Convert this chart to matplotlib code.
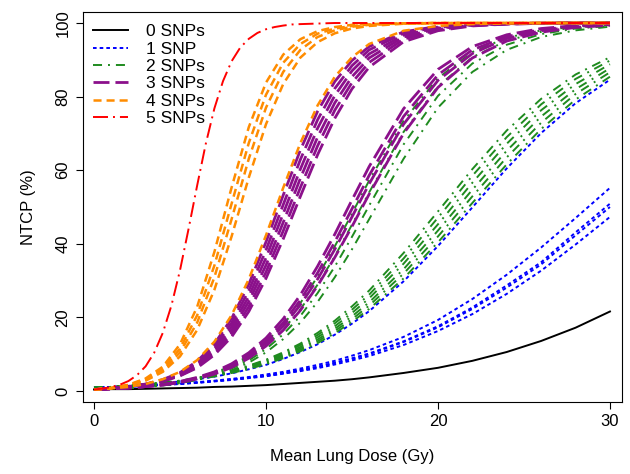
import matplotlib
matplotlib.use('Agg')
import matplotlib.pyplot as plt

plt.rcParams['font.family'] = ['Liberation Sans', 'DejaVu Sans']
plt.rcParams['lines.scale_dashes'] = False

dose = [0, 1, 2, 3, 4, 5, 6, 7, 8, 9, 10, 11, 12, 13, 14, 15, 16,
        18, 20, 22, 24, 26, 28, 30]
# the 5-SNP curve is steep, so it was read at finer steps
dose_5snp = [0, 0.5, 1, 1.5, 2, 2.5, 3, 3.5, 4, 4.5, 5, 5.5, 6, 6.5, 7, 7.5,
             8, 8.5, 9, 9.5, 10, 10.5, 11, 11.5, 12, 14, 16, 20, 25, 30]

# NTCP (%) for every SNP combination, grouped by number of risk SNPs
ntcp_0snp = [
    [0.4, 0.5, 0.5, 0.6, 0.7, 0.8, 0.9, 1.1, 1.2, 1.4, 1.6, 1.9, 2.2, 2.5, 2.8, 3.2, 3.7, 4.9, 6.3, 8.2, 10.6, 13.6, 17.2, 21.6],
]
ntcp_1snp = [
    [0.9, 1.1, 1.2, 1.5, 1.7, 2, 2.4, 2.8, 3.3, 3.8, 4.5, 5.2, 6.1, 7.1, 8.2, 9.6, 11.1, 14.7, 19.3, 25, 31.6, 39, 47, 55.2],
    [0.9, 1.1, 1.2, 1.4, 1.7, 2, 2.3, 2.7, 3.1, 3.6, 4.2, 4.9, 5.7, 6.6, 7.7, 8.9, 10.2, 13.5, 17.6, 22.7, 28.7, 35, 43.1, 50.9],
    [0.9, 1.1, 1.2, 1.4, 1.7, 2, 2.3, 2.7, 3.1, 3.6, 4.1, 4.8, 5.6, 6.5, 7.6, 8.7, 10, 13.3, 17.3, 22.3, 28.1, 34.4, 42.3, 50],
    [0.9, 1, 1.2, 1.4, 1.6, 1.9, 2.2, 2.6, 3, 3.5, 4, 4.7, 5.4, 6.2, 7.2, 8.3, 9.5, 12.5, 16.3, 20.9, 26.4, 32.7, 39.8, 47.3],
    [0.9, 1.1, 1.4, 1.7, 2.1, 2.6, 3.2, 3.9, 4.8, 5.9, 7.1, 8.7, 10.6, 12.7, 15.3, 18.3, 21.7, 29.8, 39.4, 49.9, 60.5, 70.1, 78.2, 84.6],
]
ntcp_2snp = [
    [0.9, 1.1, 1.4, 1.8, 2.3, 2.8, 3.5, 4.4, 5.5, 6.9, 8.5, 10.5, 12.9, 15.8, 19.1, 23, 27.3, 37.5, 48.8, 60.3, 70.8, 79.4, 86, 90.7],
    [0.9, 1.1, 1.4, 1.8, 2.2, 2.8, 3.5, 4.3, 5.4, 6.7, 8.3, 10.2, 12.5, 15.2, 18.4, 22.1, 26.2, 36, 47.1, 58.5, 69, 77.9, 84.8, 89.8],
    [0.9, 1.1, 1.4, 1.8, 2.2, 2.7, 3.4, 4.2, 5.2, 6.5, 8, 9.8, 12, 14.6, 17.6, 21.2, 25.2, 34.6, 45.3, 56.6, 67.2, 76.3, 83.4, 88.8],
    [0.9, 1.1, 1.4, 1.7, 2.2, 2.7, 3.3, 4.1, 5.1, 6.3, 7.7, 9.5, 11.6, 14, 16.9, 20.3, 24.1, 33.1, 43.6, 54.7, 65.3, 74.6, 82, 87.7],
    [0.9, 1.1, 1.4, 1.7, 2.1, 2.6, 3.3, 4, 5, 6.1, 7.5, 9.2, 11.2, 13.5, 16.3, 19.5, 23.2, 31.9, 42, 52.9, 63.5, 72.9, 80.7, 86.6],
    [0.9, 1.1, 1.4, 1.7, 2.1, 2.6, 3.2, 4, 4.9, 6, 7.3, 8.9, 10.8, 13, 15.7, 18.8, 22.3, 30.6, 40.4, 51.1, 61.6, 71.2, 79.2, 85.4],
    [0.4, 0.6, 0.8, 1.2, 1.7, 2.4, 3.5, 4.9, 6.9, 9.6, 13.2, 18, 23.9, 31.1, 39.3, 48.2, 57.2, 73.4, 85, 92.1, 96, 98, 99, 99.5],
    [0.4, 0.6, 0.8, 1.2, 1.7, 2.3, 3.3, 4.6, 6.5, 9, 12.3, 16.7, 22.2, 28.9, 36.6, 45.2, 54, 70.4, 82.8, 90.7, 95.2, 97.6, 98.8, 99.4],
    [0.4, 0.6, 0.8, 1.1, 1.6, 2.2, 3.1, 4.4, 6.1, 8.3, 11.4, 15.4, 20.4, 26.6, 33.8, 41.9, 50.4, 67, 80.2, 89, 94.1, 97, 98.5, 99.2],
    [0.4, 0.6, 0.8, 1.1, 1.5, 2.1, 3, 4.1, 5.6, 7.7, 10.5, 14.1, 18.6, 24.2, 30.9, 38.5, 46.7, 63.1, 77, 86.7, 92.7, 96.2, 98, 99],
]
ntcp_3snp = [
    [0.4, 0.6, 0.9, 1.2, 1.8, 2.6, 3.7, 5.2, 7.4, 10.4, 14.4, 19.6, 26.1, 33.9, 42.6, 51.9, 61, 76.7, 87.4, 93.6, 96.8, 98.5, 99.3, 99.6],
    [0.4, 0.6, 0.8, 1.2, 1.7, 2.5, 3.5, 5, 7.1, 9.9, 13.6, 18.5, 24.7, 32.1, 40.5, 49.5, 58.6, 74.6, 85.9, 92.7, 96.3, 98.2, 99.1, 99.6],
    [0.4, 0.6, 0.8, 1.2, 1.7, 2.4, 3.4, 4.8, 6.8, 9.4, 13, 17.6, 23.4, 30.4, 38.5, 47.3, 56.3, 72.5, 84.4, 91.7, 95.8, 97.9, 99, 99.5],
    [0.4, 0.6, 0.8, 1.2, 1.6, 2.3, 3.3, 4.6, 6.4, 8.9, 12.2, 16.5, 21.9, 28.6, 36.3, 44.7, 53.5, 70, 82.5, 90.5, 95.1, 97.5, 98.8, 99.4],
    [0.4, 0.7, 1.1, 1.9, 3.1, 5, 8.1, 12.8, 19.7, 29, 40.5, 53.2, 65.5, 76, 84.1, 89.8, 93.6, 97.6, 99.1, 99.7, 99.9, 100, 100, 100],
    [0.4, 0.7, 1.1, 1.8, 3, 4.8, 7.7, 12.1, 18.5, 27.3, 38.3, 50.6, 62.9, 73.7, 82.2, 88.4, 92.7, 97.2, 98.9, 99.6, 99.9, 99.9, 100, 100],
    [0.4, 0.7, 1.1, 1.8, 2.9, 4.6, 7.3, 11.4, 17.5, 25.7, 36.2, 48.2, 60.3, 71.4, 80.3, 87, 91.6, 96.7, 98.7, 99.5, 99.8, 99.9, 100, 100],
    [0.4, 0.7, 1.1, 1.7, 2.8, 4.4, 7, 10.8, 16.5, 24.3, 34.2, 45.8, 57.8, 69, 78.3, 85.4, 90.5, 96.2, 98.5, 99.4, 99.8, 99.9, 100, 100],
    [0.4, 0.7, 1, 1.7, 2.7, 4.2, 6.6, 10.3, 15.6, 22.9, 32.3, 43.5, 55.3, 66.6, 76.3, 83.8, 89.3, 95.6, 98.2, 99.3, 99.7, 99.9, 100, 100],
    [0.4, 0.6, 1, 1.6, 2.6, 4.1, 6.3, 9.8, 14.7, 21.6, 30.6, 41.3, 52.9, 64.2, 74.1, 82.1, 88, 94.9, 97.9, 99.2, 99.7, 99.9, 100, 100],
]
ntcp_4snp = [
    [0.4, 0.7, 1.1, 1.9, 3.2, 5.2, 8.4, 13.4, 20.6, 30.4, 42.3, 55.2, 67.4, 77.6, 85.4, 90.7, 94.3, 97.9, 99.2, 99.7, 99.9, 100, 100, 100],
    [0.4, 0.8, 1.7, 3.4, 6.6, 12.7, 22.9, 37.8, 55.3, 71.7, 83.8, 91.4, 95.6, 97.8, 98.9, 99.5, 99.7, 99.9, 100, 100, 100, 100, 100, 100],
    [0.4, 0.8, 1.6, 3.2, 6.1, 11.5, 20.6, 34.1, 50.9, 67.4, 80.5, 89.2, 94.3, 97.1, 98.5, 99.2, 99.6, 99.9, 100, 100, 100, 100, 100, 100],
    [0.4, 0.8, 1.5, 3, 5.6, 10.5, 18.6, 30.9, 46.7, 63.1, 77, 86.7, 92.7, 96.2, 98, 99, 99.5, 99.9, 100, 100, 100, 100, 100, 100],
    [0.4, 0.8, 1.5, 2.8, 5.2, 9.4, 16.6, 27.5, 42, 58, 72.5, 83.4, 90.6, 94.8, 97.2, 98.5, 99.2, 99.8, 99.9, 100, 100, 100, 100, 100],
]
ntcp_5snp = [
    [0.4, 0.65, 1.1, 1.7, 2.7, 4.3, 6.7, 10.4, 15.8, 23.2, 32.8, 44.1, 55.9, 67.2, 76.8, 84.2, 89.6, 93.3, 95.7, 97.3, 98.3, 98.9, 99.3, 99.6, 99.7, 100, 100, 100, 100, 100],
]

labels = ['0 SNPs', '1 SNP', '2 SNPs', '3 SNPs', '4 SNPs', '5 SNPs']
groups = [ntcp_0snp, ntcp_1snp, ntcp_2snp, ntcp_3snp, ntcp_4snp, ntcp_5snp]
xs = [dose, dose, dose, dose, dose, dose_5snp]
colors = ['black', '#0000ff', '#1f8b1f', '#8b108b', '#ff8c00', '#ff0000']
# dash patterns in points (R lty 1..6 look-alikes)
dashes = [None, (2.6, 2.2), (6.5, 4.3, 1.4, 4.3), (11.5, 4.3), (5.8, 3.6), (10.8, 3.6, 1.4, 3.6)]
widths = [1.4, 1.4, 1.4, 2.0, 1.8, 1.4]

fig = plt.figure(figsize=(6.3, 4.74), dpi=100)
ax = fig.add_axes([83 / 630, 1 - 402 / 474, 539 / 630, 390 / 474])

handles = []
for x, curves, lab, col, ds, lw in zip(xs, groups, labels, colors, dashes, widths):
    for i, y in enumerate(curves):
        ln, = ax.plot(x, y, color=col, lw=lw, label=lab if i == 0 else None)
        if ds is not None:
            ln.set_dashes(ds)
        if i == 0:
            handles.append(ln)

ax.set_xlim(-0.64, 30.70)
ax.set_ylim(-2.99, 102.99)
ax.set_xticks([0, 10, 20, 30])
ax.set_yticks([0, 20, 40, 60, 80, 100])
ax.tick_params(direction='out', length=5, width=0.8, labelsize=12, pad=4)
ax.tick_params(axis='y', labelrotation=90)
for t in ax.get_yticklabels():
    t.set_va('center')
for s in ax.spines.values():
    s.set_linewidth(0.8)

ax.set_xlabel('Mean Lung Dose (Gy)', fontsize=12, labelpad=14)
ax.set_ylabel('NTCP (%)', fontsize=12, labelpad=14)

ax.legend(handles=handles, loc='upper left', bbox_to_anchor=(0.0186, 0.969),
          frameon=False, fontsize=12.5, handlelength=2.0, handletextpad=1.05,
          labelspacing=0.13, borderpad=0, borderaxespad=0)

fig.savefig('out.png', dpi=100)
